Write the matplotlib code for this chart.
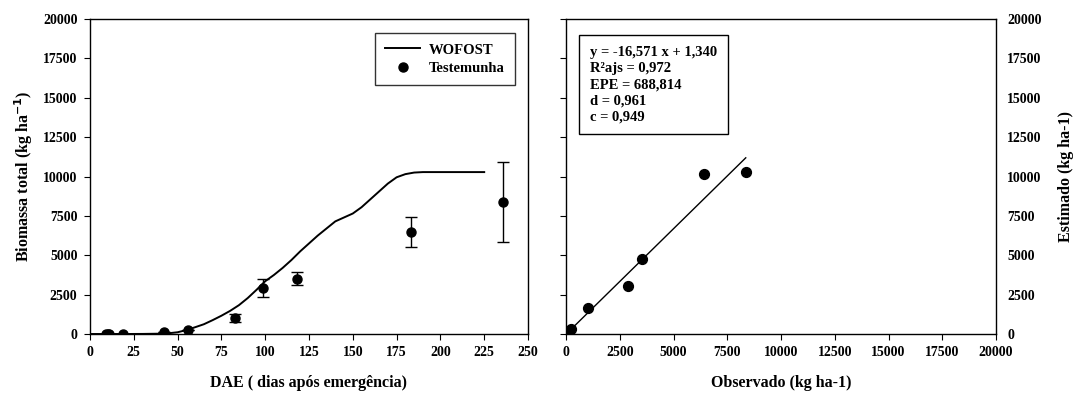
import matplotlib
matplotlib.use("Agg")
import matplotlib.pyplot as plt
import numpy as np

plt.rcParams["font.family"] = ["Liberation Serif", "DejaVu Serif"]
plt.rcParams["font.weight"] = "bold"
plt.rcParams["axes.labelweight"] = "bold"

# Dados - simulacao WOFOST
dias_sim = [0, 10, 20, 30, 40, 45, 50, 55, 60, 65, 70, 75, 80, 85, 90, 95, 100,
            105, 110, 115, 120, 125, 130, 135, 140, 145, 150, 155, 160, 165,
            170, 175, 180, 185, 190, 200, 210, 225]
biomassa_sim = [0, 0, 0, 5, 20, 50, 110, 250, 430, 620, 880, 1160, 1470, 1830,
                2280, 2800, 3350, 3750, 4200, 4700, 5250, 5750, 6250, 6700,
                7150, 7400, 7650, 8050, 8550, 9050, 9550, 9950, 10150, 10250,
                10280, 10280, 10280, 10280]

# Dados - testemunha (observado)
dias_obs = [9, 10, 11, 19, 42, 56, 83, 99, 118, 183, 236]
biomassa_obs = [0, 0, 0, 20, 105, 255, 1020, 2930, 3510, 6450, 8360]
erro_obs = [0, 0, 0, 0, 0, 0, 245, 565, 425, 955, 2550]

# Observado x estimado
observado = [0, 0, 0, 20, 105, 255, 1030, 2900, 3530, 6430, 8360]
estimado = [0, 0, 0, 0, 60, 300, 1620, 3060, 4790, 10130, 10270]
reg_intercepto = -16.571
reg_inclinacao = 1.340
estatisticas = ["y = -16,571 x + 1,340", "R\u00b2ajs = 0,972", "EPE = 688,814",
                "d = 0,961", "c = 0,949"]

W, H = 1073, 393
fig = plt.figure(figsize=(W / 100, H / 100), dpi=100)
ax1 = fig.add_axes([90 / W, 1 - 334 / H, (528 - 90) / W, (334 - 19) / H])
ax2 = fig.add_axes([566 / W, 1 - 334 / H, (996 - 566) / W, (334 - 19) / H])

fs = 10

# Grafico 1
ax1.plot(dias_sim, biomassa_sim, color="black", linewidth=1.4, label="WOFOST")
ax1.errorbar(dias_obs, biomassa_obs, yerr=erro_obs, fmt="none", ecolor="black",
             capsize=4, elinewidth=1, capthick=1)
ax1.plot(dias_obs, biomassa_obs, "o", color="black", markersize=6.5, label="Testemunha")
ax1.set_xlim(0, 250)
ax1.set_ylim(0, 20000)
ax1.set_xticks(np.arange(0, 251, 25))
ax1.set_yticks(np.arange(0, 20001, 2500))
ax1.set_xlabel("DAE ( dias após emergência)", fontsize=fs + 1.5, labelpad=11)
ax1.set_ylabel("Biomassa total (kg ha$^{\\mathbf{-1}}$)", fontsize=fs + 1.5, labelpad=6)
ax1.tick_params(direction="out", length=4, labelsize=fs, pad=5)
leg = ax1.legend(loc="upper right", fontsize=fs + 0.5, fancybox=False, edgecolor="black",
                 handlelength=2.4, bbox_to_anchor=(0.97, 0.955), borderpad=0.7,
                 labelspacing=0.35, handletextpad=0.6, borderaxespad=0)
leg.get_frame().set_linewidth(1.0)

# Grafico 2
ax2.scatter(observado, estimado, s=50, color="black", zorder=3)
xr = np.array([0, max(observado)])
ax2.plot(xr, reg_intercepto + reg_inclinacao * xr, color="black", linewidth=1.0)
ax2.set_xlim(0, 20000)
ax2.set_ylim(0, 20000)
ax2.set_xticks(np.arange(0, 20001, 2500))
ax2.set_yticks(np.arange(0, 20001, 2500))
ax2.tick_params(direction="out", length=4, labelsize=fs, pad=5)
ax2.tick_params(axis="y", left=True, right=False, labelleft=False, labelright=True, pad=4)
ax2.yaxis.set_label_position("right")
ax2.set_xlabel("Observado (kg ha-1)", fontsize=fs + 1.5, labelpad=11)
ax2.set_ylabel("Estimado (kg ha-1)", fontsize=fs + 1.5, labelpad=12)
ax2.text(0.056, 0.914, "\n".join(estatisticas), transform=ax2.transAxes,
         fontsize=fs + 0.5, va="top", ha="left", linespacing=1.3,
         bbox=dict(boxstyle="square,pad=0.75", facecolor="white", edgecolor="black",
                   linewidth=1.0))

for ax in (ax1, ax2):
    for s in ax.spines.values():
        s.set_linewidth(1.0)

plt.savefig("out.png", dpi=100)
